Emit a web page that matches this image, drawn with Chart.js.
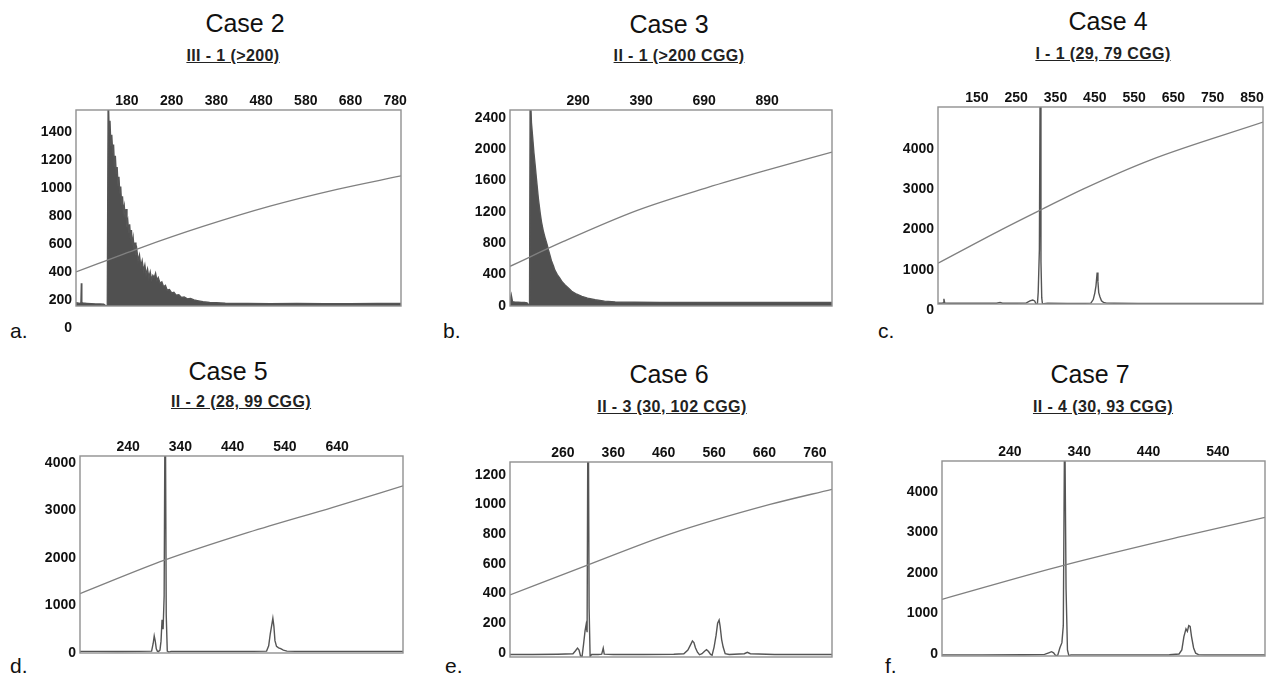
<!DOCTYPE html>
<html>
<head>
<meta charset="utf-8">
<script src="https://cdn.jsdelivr.net/npm/chart.js@4.4.1/dist/chart.umd.min.js"></script>
<style>
  body { margin: 0; background: #fff; width: 1269px; height: 679px; position: relative; overflow: hidden;
         font-family: "Liberation Sans", Arial, sans-serif; color: #111; }
  canvas { position: absolute; }
  .t { position: absolute; transform: translateX(-50%); white-space: nowrap; line-height: 1; }
  .case { font-size: 25px; }
  .sub { font-size: 16px; font-weight: bold; text-decoration: underline; letter-spacing: 0.4px; color: #222; }
  .lab { position: absolute; font-size: 21px; line-height: 1; }
</style>
</head>
<body>

<div class="t case" style="left:245px;top:11px">Case 2</div>
<div class="t sub" style="left:233px;top:48px">III - 1 (&gt;200)</div>
<div class="t case" style="left:669px;top:12px">Case 3</div>
<div class="t sub" style="left:679px;top:48px">II - 1 (&gt;200 CGG)</div>
<div class="t case" style="left:1108px;top:9px">Case 4</div>
<div class="t sub" style="left:1103px;top:46px">I - 1 (29, 79 CGG)</div>
<div class="t case" style="left:228px;top:359px">Case 5</div>
<div class="t sub" style="left:241px;top:394px">II - 2 (28, 99 CGG)</div>
<div class="t case" style="left:669px;top:362px">Case 6</div>
<div class="t sub" style="left:672px;top:399px">II - 3 (30, 102 CGG)</div>
<div class="t case" style="left:1090px;top:362px">Case 7</div>
<div class="t sub" style="left:1103px;top:399px">II - 4 (30, 93 CGG)</div>

<div class="lab" style="left:10px;top:320px">a.</div>
<div class="lab" style="left:443px;top:320px">b.</div>
<div class="lab" style="left:878px;top:320px">c.</div>
<div class="lab" style="left:10px;top:655px">d.</div>
<div class="lab" style="left:445px;top:655px">e.</div>
<div class="lab" style="left:885px;top:655px">f.</div>

<canvas id="ca"></canvas>
<canvas id="cb"></canvas>
<canvas id="cc"></canvas>
<canvas id="cd"></canvas>
<canvas id="ce"></canvas>
<canvas id="cf"></canvas>

<script>
// tick labels (top axis) and y ticks for each panel
const xTicksA = [180, 280, 380, 480, 580, 680, 780];
const xTicksB = [290, 390, 490, 590];
const xLabelsB = ['290', '390', '690', '890'];
const xTicksC = [150, 250, 350, 450, 550, 650, 750, 850];
const xTicksD = [240, 340, 440, 540, 640];
const xTicksE = [260, 360, 460, 560, 660, 760];
const xTicksF = [240, 340, 440, 540];

const yTicksA = [0, 200, 400, 600, 800, 1000, 1200, 1400];
const yTicksB = [0, 400, 800, 1200, 1600, 2000, 2400];
const yTicksC = [0, 1000, 2000, 3000, 4000];
const yTicksD = [0, 1000, 2000, 3000, 4000];
const yTicksE = [0, 200, 400, 600, 800, 1000, 1200];
const yTicksF = [0, 1000, 2000, 3000, 4000];

// electropherogram traces, [size, fluorescence]
const traceA = [[66,180],[70,178],[74,176],[77,180],[78,320],[79,180],[82,178],[90,176],[100,174],[110,172],[120,172],[128,170],[132,160],[136,160],[138,1700],[140,1420],[142,1480],[144,1300],[146,1380],[148,1250],[150,1310],[152,1150],[154,1230],[156,1100],[158,1150],[160,1020],[162,1080],[164,960],[166,1010],[168,880],[170,940],[172,830],[174,870],[176,790],[178,850],[180,720],[182,760],[184,680],[186,740],[188,640],[190,700],[192,590],[194,640],[196,560],[198,610],[200,520],[202,560],[205,480],[208,520],[211,440],[214,480],[217,410],[220,450],[223,380],[226,420],[229,360],[232,400],[235,345],[238,375],[241,360],[244,390],[247,340],[250,360],[254,320],[258,330],[262,295],[266,305],[270,270],[275,275],[280,250],[285,255],[290,235],[296,238],[302,218],[308,222],[315,208],[322,210],[330,200],[340,194],[350,188],[365,182],[380,180],[400,177],[450,175],[500,174],[560,175],[620,174],[680,174],[740,175],[793,176]];

const traceB = [[182,60],[184,140],[186,55],[190,50],[195,48],[200,46],[205,45],[209,40],[211,20],[213,20],[214,2800],[216,2340],[218,2150],[220,1950],[222,1790],[224,1620],[227,1370],[230,1180],[232,1070],[235,950],[238,860],[241,780],[243,715],[246,630],[248,570],[251,510],[253,460],[257,400],[261,355],[265,305],[269,270],[275,225],[280,188],[288,150],[296,123],[305,100],[317,80],[332,62],[349,52],[380,48],[420,46],[480,45],[540,45],[600,45],[650,44],[693,45]];

const traceC = [[51,170],[60,170],[64,175],[66,280],[68,175],[80,170],[120,168],[160,168],[200,170],[209,190],[215,170],[250,168],[275,172],[285,230],[292,250],[297,225],[301,140],[304,150],[306,440],[309,1500],[311,6000],[313,1200],[315,300],[317,140],[320,160],[330,168],[380,166],[420,166],[440,172],[446,260],[450,420],[453,600],[456,930],[458,700],[460,430],[463,330],[467,230],[472,190],[480,172],[500,168],[560,166],[650,166],[750,166],[878,166]];

const traceD = [[148,35],[180,35],[220,33],[260,35],[285,40],[288,200],[290,360],[292,250],[294,90],[296,40],[298,30],[301,60],[303,250],[305,700],[307,500],[309,1200],[311,6000],[313,800],[315,40],[318,20],[322,35],[360,35],[420,35],[480,35],[505,40],[509,150],[512,400],[515,600],[517,730],[519,560],[521,260],[524,140],[528,110],[532,90],[537,60],[544,40],[560,35],[620,35],[700,35],[766,35]];

const traceE = [[155,-10],[200,-10],[250,-8],[280,-5],[285,15],[289,33],[292,20],[295,-20],[298,-25],[301,60],[304,150],[306,190],[308,140],[310,2000],[312,300],[314,-25],[317,-10],[330,-10],[337,-8],[340,33],[342,-8],[360,-10],[420,-10],[480,-8],[500,-5],[508,20],[514,60],[517,81],[520,70],[523,35],[527,5],[531,-12],[536,-5],[541,12],[545,22],[549,10],[553,-10],[556,-15],[560,40],[564,120],[567,200],[570,222],[572,180],[575,90],[578,40],[582,-5],[590,-10],[620,-5],[626,5],[632,-5],[680,-10],[740,-10],[794,-10]];

const traceF = [[142,-20],[200,-20],[260,-18],[290,-10],[296,30],[300,57],[303,30],[306,-40],[309,-30],[312,150],[315,280],[317,700],[319,6000],[321,1600],[323,100],[325,-40],[328,-20],[360,-20],[420,-20],[470,-18],[484,0],[488,100],[491,430],[494,620],[496,560],[498,700],[500,680],[502,430],[505,150],[508,20],[512,-15],[520,-20],[560,-20],[608,-20]];

// size-standard curves
const sizeA = [[66,400],[209,571],[350,725],[500,870],[650,990],[793,1086]];
const sizeB = [[182,506],[266,820],[384,1220],[495,1510],[584,1720],[693,1962]];
const sizeC = [[51,1160],[214,2000],[316,2500],[420,3000],[591,3720],[878,4660]];
const sizeD = [[148,1250],[311,1960],[470,2540],[632,3070],[766,3520]];
const sizeE = [[155,391],[310,593],[472,800],[671,1000],[794,1102]];
const sizeF = [[142,1350],[320,2200],[490,2910],[608,3375]];

Chart.defaults.font.family = '"Liberation Sans", Arial, sans-serif';

const panels = [
  { id: 'ca', box: [76, 110, 401, 306], xr: [66, 793], yr: [157, 1557], xt: xTicksA, xl: null, yt: yTicksA, trace: traceA, size: sizeA, fill: true },
  { id: 'cb', box: [510, 110, 832, 306], xr: [182, 693], yr: [0, 2500], xt: xTicksB, xl: xLabelsB, yt: yTicksB, trace: traceB, size: sizeB, fill: true },
  { id: 'cc', box: [938, 107, 1263, 304], xr: [51, 878], yr: [150, 5035], xt: xTicksC, xl: null, yt: yTicksC, trace: traceC, size: sizeC, fill: false },
  { id: 'cd', box: [80, 456, 403, 653], xr: [148, 766], yr: [0, 4150], xt: xTicksD, xl: null, yt: yTicksD, trace: traceD, size: sizeD, fill: false },
  { id: 'ce', box: [510, 462, 832, 657], xr: [155, 794], yr: [-27, 1286], xt: xTicksE, xl: null, yt: yTicksE, trace: traceE, size: sizeE, fill: false },
  { id: 'cf', box: [942, 461, 1265, 656], xr: [142, 608], yr: [-49, 4765], xt: xTicksF, xl: null, yt: yTicksF, trace: traceF, size: sizeF, fill: false },
];

const Y_W = 62, X_H = 32, PAD_R = 8, PAD_B = 30;

// outline of the plot area
const boxPlugin = {
  id: 'box',
  afterDatasetsDraw(chart) {
    const { ctx, chartArea: a } = chart;
    ctx.save();
    ctx.strokeStyle = '#909090';
    ctx.lineWidth = 1.4;
    ctx.strokeRect(a.left, a.top, a.right - a.left, a.bottom - a.top);
    ctx.restore();
  }
};

const toPts = (arr) => arr.map(p => ({ x: p[0], y: p[1] }));

panels.forEach(p => {
  const [l, t, r, b] = p.box;
  const cv = document.getElementById(p.id);
  const w = (r - l) + Y_W + PAD_R;
  const h = (b - t) + X_H + PAD_B;
  cv.width = w; cv.height = h;
  cv.style.left = (l - Y_W) + 'px';
  cv.style.top = (t - X_H) + 'px';
  cv.style.width = w + 'px';
  cv.style.height = h + 'px';

  new Chart(cv, {
    type: 'line',
    data: {
      datasets: [
        {
          data: toPts(p.size),
          borderColor: '#808080',
          borderWidth: 1.3,
          pointRadius: 0,
          cubicInterpolationMode: 'monotone',
          fill: false,
        },
        {
          data: toPts(p.trace),
          borderColor: '#555',
          backgroundColor: '#505050',
          borderWidth: 1.4,
          pointRadius: 0,
          tension: 0,
          fill: p.fill ? 'origin' : false,
        },
      ],
    },
    options: {
      responsive: false,
      animation: false,
      devicePixelRatio: 1,
      layout: { padding: { left: 0, top: 0, right: PAD_R, bottom: PAD_B } },
      plugins: { legend: { display: false }, tooltip: { enabled: false } },
      scales: {
        x: {
          type: 'linear',
          position: 'top',
          min: p.xr[0],
          max: p.xr[1],
          grid: { display: false, drawTicks: false },
          border: { display: false },
          afterBuildTicks: (axis) => { axis.ticks = p.xt.map(v => ({ value: v })); },
          afterFit: (axis) => { axis.height = X_H; },
          ticks: {
            autoSkip: false,
            maxRotation: 0,
            padding: 0,
            color: '#111',
            font: { size: 14, weight: 'bold' },
            callback: (v, i) => (p.xl ? p.xl[i] : String(v)),
          },
        },
        y: {
          type: 'linear',
          min: p.yr[0],
          max: p.yr[1],
          grid: { display: false, drawTicks: false },
          border: { display: false },
          afterBuildTicks: (axis) => { axis.ticks = p.yt.map(v => ({ value: v })); },
          afterFit: (axis) => { axis.width = Y_W; },
          ticks: {
            autoSkip: false,
            padding: 4,
            color: '#111',
            font: { size: 14, weight: 'bold' },
            callback: (v) => String(v),
          },
        },
      },
    },
    plugins: [boxPlugin],
  });
});
</script>
</body>
</html>
